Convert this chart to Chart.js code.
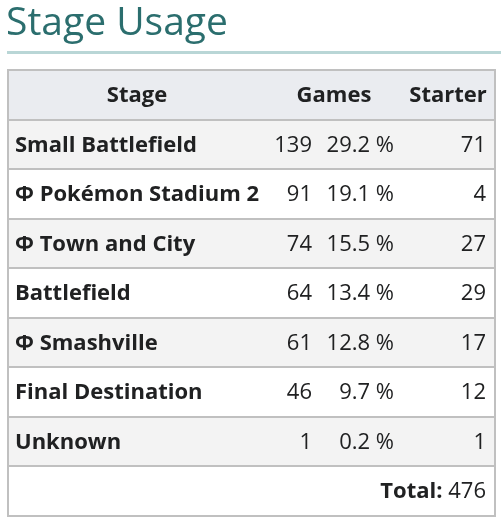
<!DOCTYPE html>
<html><head><meta charset="utf-8">
<script src="https://cdn.jsdelivr.net/npm/chart.js@4"></script>
<style>html,body{margin:0;padding:0;background:#fff}#c{display:block}</style>
</head><body>
<div style="width:501px;height:522px"><canvas id="c"></canvas></div>
<script>
const title = "Stage Usage";
const headers = ["Stage", "Games", "Starter"];
const stages = ["Small Battlefield", "Φ Pokémon Stadium 2", "Φ Town and City", "Battlefield", "Φ Smashville", "Final Destination", "Unknown"];
const games = [139, 91, 74, 64, 61, 46, 1];
const percents = ["29.2 %", "19.1 %", "15.5 %", "13.4 %", "12.8 %", "9.7 %", "0.2 %"];
const starters = [71, 4, 27, 29, 17, 12, 1];
const totalGames = 476;

const rowKeys = ["header", ...stages, "total"];

const tablePlugin = {
  id: 'table',
  beforeDraw(chart) {
    const ctx = chart.ctx, y = chart.scales.y, a = chart.chartArea;
    const band = (a.bottom - a.top) / rowKeys.length;
    ctx.save();
    ctx.fillStyle = '#fff'; ctx.fillRect(0,0,chart.width,chart.height);
    rowKeys.forEach((k, i) => {
      const cy = y.getPixelForValue(i);
      const top = cy - band/2;
      let bg = '#ffffff';
      if (i === 0) bg = '#eaecf0';
      else if (i <= stages.length && i % 2 === 1) bg = '#f3f3f3';
      ctx.fillStyle = bg; ctx.fillRect(a.left, top, a.right - a.left, band);
      if (i > 0) { ctx.fillStyle = '#c0c0c0'; ctx.fillRect(a.left, Math.round(top)-1, a.right - a.left, 2); }
    });
    ctx.strokeStyle = '#c0c0c0'; ctx.lineWidth = 2;
    ctx.strokeRect(a.left, a.top, a.right - a.left, a.bottom - a.top);
    ctx.fillStyle = '#2b6e6e'; ctx.font = '39px "Open Sans"'; ctx.textBaseline = 'middle'; ctx.textAlign = 'left';
    ctx.fillText(title, 6, 24);
    ctx.fillStyle = '#b9d6d6'; ctx.fillRect(7, 51, 494, 3);
    ctx.fillStyle = '#202122';
    rowKeys.forEach((k, i) => {
      const cy = y.getPixelForValue(i) + 1;
      if (i === 0) {
        ctx.font = 'bold 22px "Open Sans"'; ctx.textAlign = 'center';
        ctx.fillText(headers[0], 137, cy); ctx.fillText(headers[1], 334, cy); ctx.fillText(headers[2], 448, cy);
      } else if (i <= stages.length) {
        const j = i - 1;
        ctx.font = 'bold 22px "Open Sans"'; ctx.textAlign = 'left';
        ctx.fillText(stages[j], 15, cy);
        ctx.font = '22px "Open Sans"'; ctx.textAlign = 'right';
        ctx.fillText(String(games[j]), 312, cy);
        ctx.fillText(percents[j], 394, cy);
        ctx.fillText(String(starters[j]), 486, cy);
      } else {
        ctx.font = '22px "Open Sans"'; ctx.textAlign = 'right';
        const v = String(totalGames); ctx.fillText(v, 486, cy);
        const w = ctx.measureText(' ' + v).width;
        ctx.font = 'bold 22px "Open Sans"'; ctx.fillText('Total:', 486 - w, cy);
      }
    });
    ctx.restore();
  }
};

new Chart(document.getElementById('c'), {
  type: 'bar',
  data: { labels: rowKeys, datasets: [{ data: rowKeys.map(() => 0), backgroundColor: 'rgba(0,0,0,0)' }] },
  options: {
    responsive: true, maintainAspectRatio: false, animation: false, indexAxis: 'y',
    layout: { padding: { left: 8, right: 6, top: 70, bottom: 6 } },
    plugins: { legend: { display: false }, tooltip: { enabled: false } },
    scales: { y: { type: 'category', display: false, offset: true }, x: { display: false, min: 0, max: 1 } }
  },
  plugins: [tablePlugin]
});
</script>
</body></html>
